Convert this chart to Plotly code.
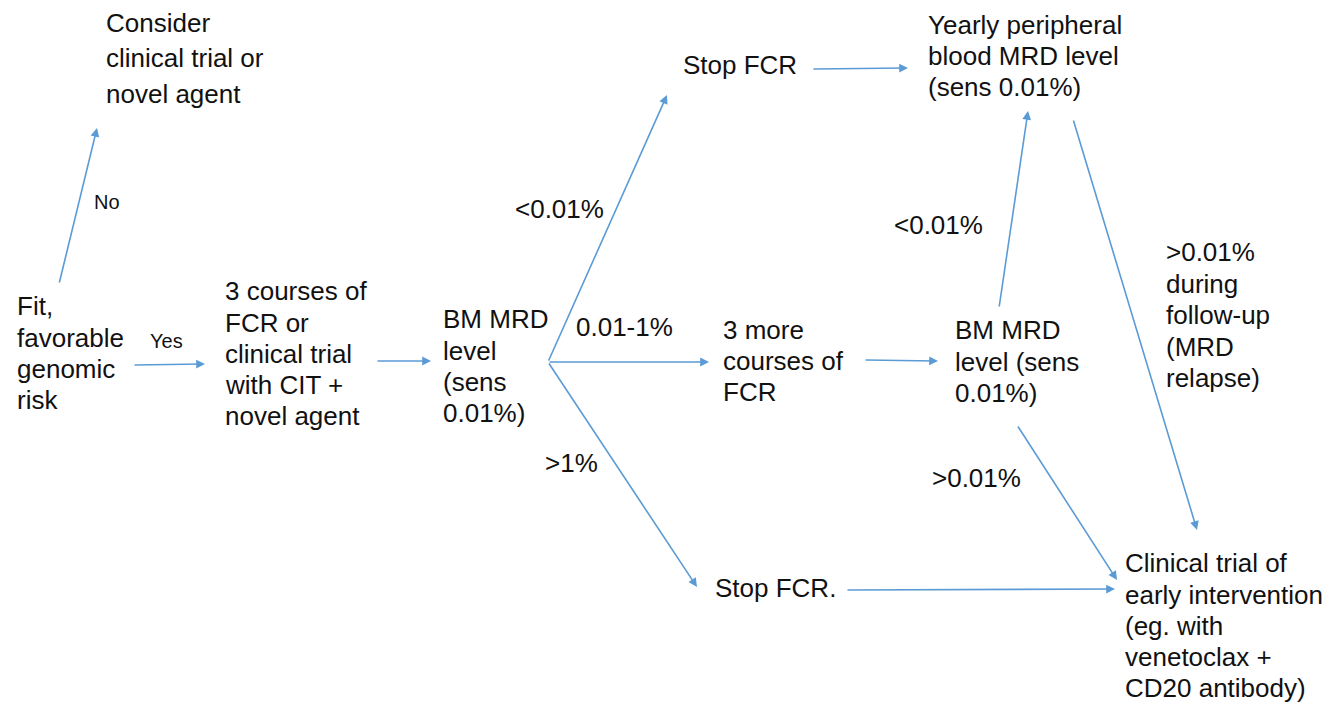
import plotly.graph_objects as go

# ---- content (text only) ----
node_consider = ["Consider", "clinical trial or", "novel agent"]
node_fit = ["Fit,", "favorable", "genomic", "risk"]
node_courses = ["3 courses of", "FCR or", "clinical trial", "with CIT +", "novel agent"]
node_bm1 = ["BM MRD", "level", "(sens", "0.01%)"]
node_stop1 = ["Stop FCR"]
node_more = ["3 more", "courses of", "FCR"]
node_stop2 = ["Stop FCR."]
node_yearly = ["Yearly peripheral", "blood MRD level", "(sens 0.01%)"]
node_bm2 = ["BM MRD", "level (sens", "0.01%)"]
node_relapse = [">0.01%", "during", "follow-up", "(MRD", "relapse)"]
node_trial = ["Clinical trial of", "early intervention", "(eg. with", "venetoclax +", "CD20 antibody)"]

edge_labels_small = ["No", "Yes"]
edge_labels = ["<0.01%", "0.01-1%", ">1%", "<0.01%", ">0.01%"]

# ---- layout (positions in pixel space of the 1339x704 canvas) ----
W, H = 1339, 704
FONT = "Liberation Sans, Arial, sans-serif"
BLUE = "#5B9BD5"

node_layout = [
    (node_consider, 104, [23, 58, 94]),
    (node_fit, 15, [306, 338, 369, 400]),
    (node_courses, 223, [291, 323, 354, 385, 416]),
    (node_bm1, 441, [319, 351, 382, 413]),
    (node_stop1, 681, [65]),
    (node_more, 721, [330, 361, 392]),
    (node_stop2, 713, [588]),
    (node_yearly, 926, [25, 56, 87]),
    (node_bm2, 953, [330, 362, 393]),
    (node_relapse, 1164, [252, 284, 315, 347, 378]),
    (node_trial, 1123, [563, 595, 626, 657, 688]),
]

small_label_pos = [(107, 202), (166, 341)]
edge_label_pos = [(559, 209), (624, 327), (571, 463), (938, 225), (976, 478)]

arrows = [  # (tail_x, tail_y, head_x, head_y)
    (59, 284, 97, 128),
    (133, 365, 205, 364),
    (376, 361, 431, 361),
    (548, 362, 667, 95),
    (548, 362, 709, 362),
    (548, 362, 697, 587),
    (812, 69, 908, 68),
    (864, 360, 938, 361),
    (999, 308, 1028, 111),
    (1073, 119, 1197, 530),
    (1017, 425, 1117, 580),
    (846, 590, 1115, 589),
]

fig = go.Figure()
annotations = []

for lines, x0, ys in node_layout:
    for txt, yy in zip(lines, ys):
        annotations.append(dict(
            x=x0, y=yy, xref="x", yref="y", text=txt, showarrow=False,
            xanchor="left", yanchor="middle", align="left",
            font=dict(family=FONT, size=26, color="#111111"),
        ))

for txt, (x0, y0) in zip(edge_labels_small, small_label_pos):
    annotations.append(dict(
        x=x0, y=y0, xref="x", yref="y", text=txt, showarrow=False,
        xanchor="center", yanchor="middle",
        font=dict(family=FONT, size=20, color="#111111"),
    ))

for txt, (x0, y0) in zip(edge_labels, edge_label_pos):
    annotations.append(dict(
        x=x0, y=y0, xref="x", yref="y", text=txt, showarrow=False,
        xanchor="center", yanchor="middle",
        font=dict(family=FONT, size=26, color="#111111"),
    ))

for tx, ty, hx, hy in arrows:
    annotations.append(dict(
        x=hx, y=hy, ax=tx, ay=ty, xref="x", yref="y", axref="x", ayref="y",
        text="", showarrow=True, arrowhead=2, arrowsize=1.1, arrowwidth=1.6,
        arrowcolor=BLUE, standoff=0, startstandoff=0,
    ))

fig.update_layout(
    width=W, height=H,
    margin=dict(l=0, r=0, t=0, b=0),
    paper_bgcolor="white", plot_bgcolor="white",
    xaxis=dict(range=[0, W], visible=False, fixedrange=True),
    yaxis=dict(range=[H, 0], visible=False, fixedrange=True),
    annotations=annotations,
    showlegend=False,
)

fig.write_html(
    "out.html",
    config={"displayModeBar": False},
    post_script="document.body.style.margin='0';document.body.style.overflow='hidden';",
)
